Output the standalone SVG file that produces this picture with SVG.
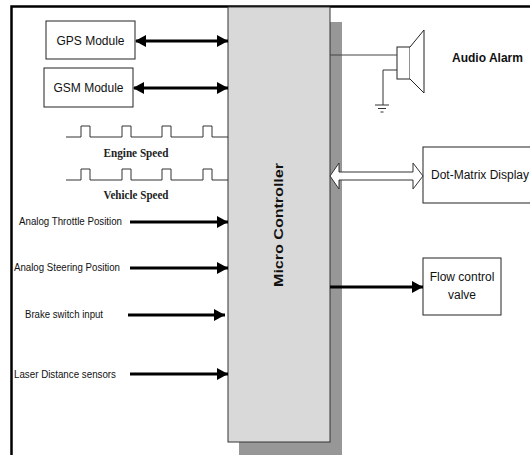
<svg xmlns="http://www.w3.org/2000/svg" width="530" height="455" viewBox="0 0 530 455">
<style>
.box{fill:#fff;stroke:#222;stroke-width:1}
.t{font-family:"Liberation Sans",Arial,sans-serif;font-size:12px;fill:#111}
.ts{font-family:"Liberation Sans",Arial,sans-serif;font-size:10.5px;fill:#111}
.tr{font-family:"Liberation Serif","Times New Roman",serif;font-size:12px;font-weight:bold;fill:#222}
.arr{stroke:#000;stroke-width:3;fill:none}
.thin{stroke:#333;stroke-width:1;fill:none}
</style>
<defs>
<marker id="ah" markerUnits="userSpaceOnUse" markerWidth="12" markerHeight="14" refX="11" refY="7" orient="auto">
<path d="M0,1 L11,7 L0,13 Z" fill="#000"/>
</marker>
<marker id="as" markerUnits="userSpaceOnUse" markerWidth="12" markerHeight="14" refX="1" refY="7" orient="auto">
<path d="M11,1 L0,7 L11,13 Z" fill="#000"/>
</marker>
</defs>
<rect width="530" height="455" fill="#fff"/>
<g id="frame">
<path d="M11.5,455 L11.5,6.5 L530,6.5" fill="none" stroke="#000" stroke-width="2.5"/>
</g>
<g id="micro">
<rect x="239" y="22" width="103" height="433" fill="#979797"/>
<rect x="228" y="7" width="102" height="435" fill="#d9d9d9" stroke="#333" stroke-width="1"/>
<text class="t" transform="translate(283,225) rotate(-90)" text-anchor="middle" font-weight="bold" font-size="13" textLength="124" lengthAdjust="spacingAndGlyphs">Micro Controller</text>
</g>
<g id="gps">
<rect class="box" x="46" y="21" width="89" height="38"/>
<text class="t" x="90.5" y="45" text-anchor="middle">GPS Module</text>
</g>
<g id="gsm">
<rect class="box" x="44" y="68" width="89" height="39"/>
<text class="t" x="88.5" y="92" text-anchor="middle">GSM Module</text>
</g>
<g id="engine">
<path class="thin" d="M66,137 H81 V126 H90 V137 H122 V126 H131 V137 H162 V126 H171 V137 H203 V126 H212 V137 H228"/>
<text class="tr" x="136" y="157" text-anchor="middle" textLength="65" lengthAdjust="spacingAndGlyphs">Engine Speed</text>
</g>
<g id="vehicle">
<path class="thin" d="M66,180 H81 V169 H90 V180 H122 V169 H131 V180 H162 V169 H171 V180 H203 V169 H212 V180 H228"/>
<text class="tr" x="136" y="199" text-anchor="middle" textLength="65" lengthAdjust="spacingAndGlyphs">Vehicle Speed</text>
</g>
<g id="throttle"><text class="ts" x="19" y="225" textLength="103" lengthAdjust="spacingAndGlyphs">Analog Throttle Position</text></g>
<g id="steering"><text class="ts" x="14" y="271" textLength="106" lengthAdjust="spacingAndGlyphs">Analog Steering Position</text></g>
<g id="brake"><text class="ts" x="25" y="318" textLength="78" lengthAdjust="spacingAndGlyphs">Brake switch input</text></g>
<g id="laser"><text class="ts" x="14" y="378" textLength="102" lengthAdjust="spacingAndGlyphs">Laser Distance sensors</text></g>
<g id="alarm">
<rect x="397" y="47" width="13" height="32" fill="#fff" stroke="#222" stroke-width="1"/>
<path d="M410,47 L424,30 L424,93 L410,79" fill="#fff" stroke="#222" stroke-width="1"/>
<path class="thin" d="M397,70 H383 V105"/>
<path class="thin" d="M375,105 H389 M378,108.5 H386 M380.5,112 H383.5"/>
<text class="t" x="452" y="62" font-size="10" font-weight="bold">Audio Alarm</text>
</g>
<g id="display">
<rect class="box" x="423" y="147" width="112" height="56"/>
<text class="t" x="431" y="179">Dot-Matrix Display</text>
</g>
<g id="valve">
<rect class="box" x="423" y="258" width="78" height="57"/>
<text class="t" x="462" y="281" text-anchor="middle">Flow control</text>
<text class="t" x="462" y="299" text-anchor="middle">valve</text>
</g>
<g id="connectors">
<line class="arr" x1="136" y1="41" x2="228" y2="41" marker-start="url(#as)" marker-end="url(#ah)"/>
<line class="arr" x1="134" y1="88" x2="228" y2="88" marker-start="url(#as)" marker-end="url(#ah)"/>
<line class="arr" x1="130" y1="222" x2="228" y2="222" marker-end="url(#ah)"/>
<line class="arr" x1="130" y1="268" x2="228" y2="268" marker-end="url(#ah)"/>
<line class="arr" x1="128" y1="315" x2="225" y2="315" marker-end="url(#ah)"/>
<line class="arr" x1="130" y1="374" x2="228" y2="374" marker-end="url(#ah)"/>
<line class="arr" x1="330" y1="287" x2="423" y2="287" marker-end="url(#ah)"/>
<line x1="330" y1="55" x2="397" y2="55" stroke="#444" stroke-width="1"/>
<path d="M330,176 L339,163 V172 H413 V163 L423,176 L413,189 V180 H339 V189 Z" fill="#fff" stroke="#333" stroke-width="1"/>
</g>
</svg>
